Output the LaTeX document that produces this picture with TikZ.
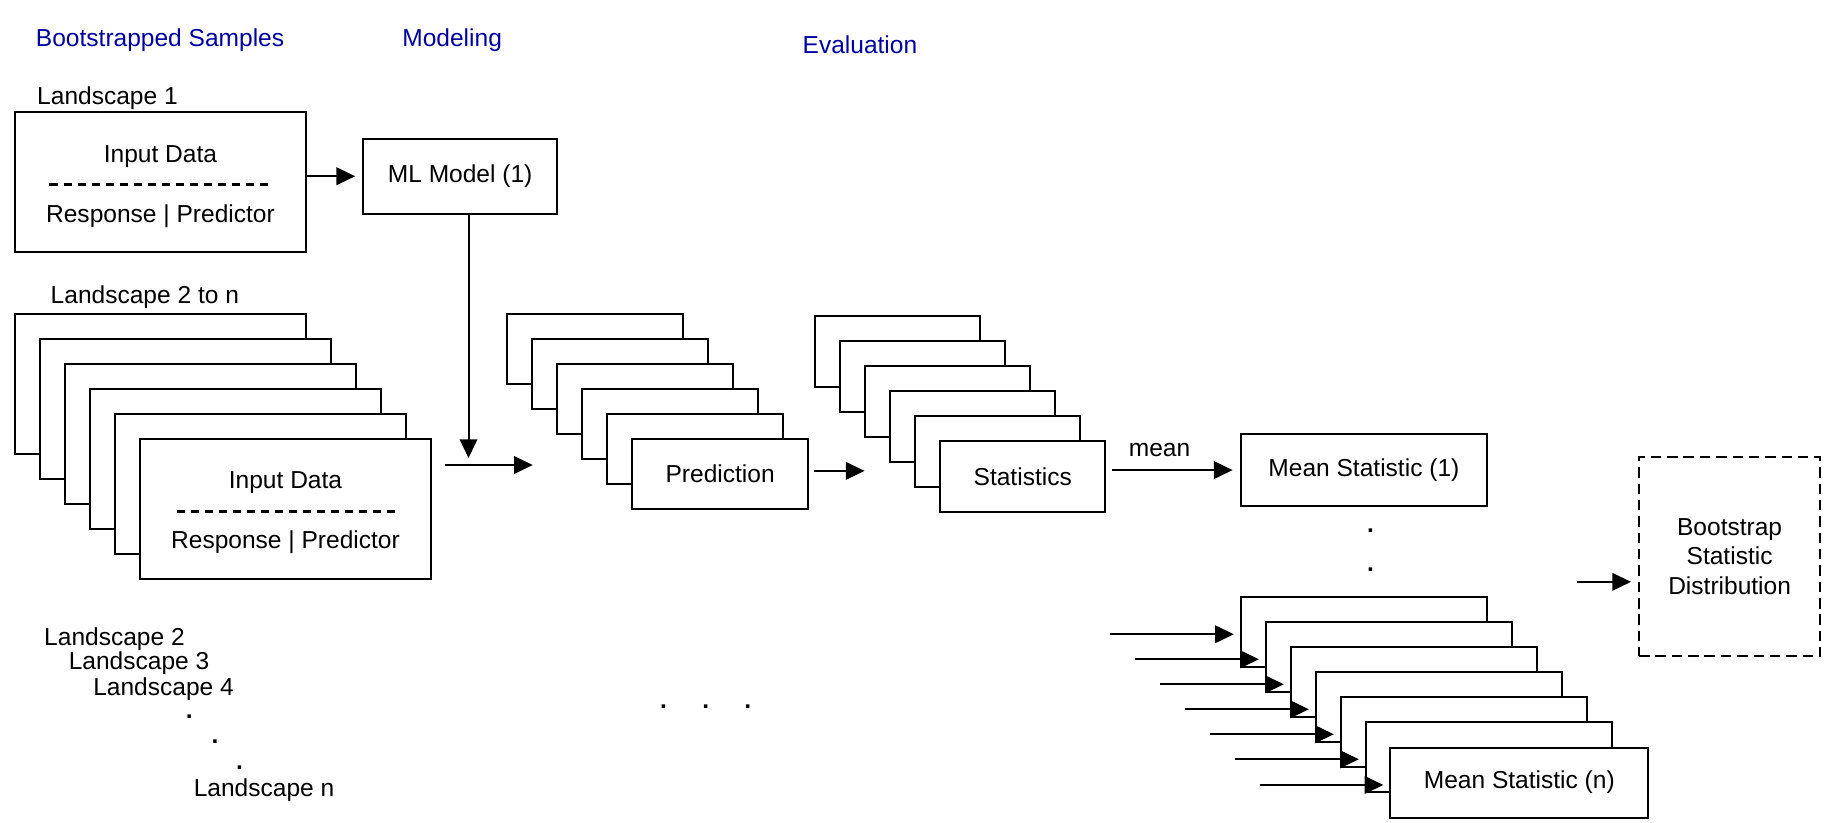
\documentclass[tikz,border=0pt]{standalone}
\usepackage{fontspec}
\setmainfont{Liberation Sans}
\usetikzlibrary{arrows.meta}
\usetikzlibrary{calc}
\definecolor{headblue}{RGB}{0,0,160}
\tikzset{
	node_text/.style = {
		align=center,
		inner sep=0pt,
		font=\fontsize{21}{25}\selectfont
	},
	node_label/.style = {
		node_text,
		yshift=-2pt
	},
	node_head/.style = {
		node_label,
		text=headblue
	},
	node_dot/.style = {
		node_text,
		font=\fontsize{21}{25}\selectfont\bfseries
	},
	node_box/.style = {
		node_text,
		rectangle,
		draw=black,
		fill=white,
		line width=1.7pt,
		anchor=north west
	},
	node_data/.style = {
		node_box,
		minimum width=249pt,
		minimum height=120pt
	},
	node_model/.style = {
		node_box,
		minimum width=166pt,
		minimum height=64pt
	},
	node_pred/.style = {
		node_box,
		minimum width=151pt,
		minimum height=60pt
	},
	node_stat/.style = {
		node_box,
		minimum width=141pt,
		minimum height=60pt
	},
	node_mean/.style = {
		node_box,
		minimum width=211pt,
		minimum height=60pt
	},
	node_dist/.style = {
		node_box,
		dashed,
		dash pattern=on 9pt off 5pt,
		minimum width=155pt,
		minimum height=171pt
	},
	arr/.style = {
		->,
		line width=1.7pt,
		shorten >=6pt
	},
	sep_line/.style = {
		line width=2pt,
		dash pattern=on 7pt off 5pt
	},
}

\begin{document}
\begin{tikzpicture}[x=1pt, y=-1pt, >={Triangle[length=16pt, width=15pt]}]
\fill[white] (0,0) rectangle (1568,704);
\useasboundingbox (0,0) rectangle (1568,704);

% column headings
\node [node_head] (h_boot) at (137,32) {Bootstrapped Samples};
\node [node_head] (h_model) at (387,32) {Modeling};
\node [node_head] (h_eval) at (736,36) {Evaluation};

% landscape 1
\node [node_label] (l_one) at (92,82) {Landscape 1};
\node [node_data] (box1) at (12,95) {};
\node [node_label] (in1) at ($(box1.center)+(0,-24)$) {Input Data};
\draw [sep_line] ($(box1.center)+(-95,2)$) -- ($(box1.center)+(96,2)$);
\node [node_label] (rp1) at ($(box1.center)+(0,27)$) {Response | Predictor};

\node [node_model] (mlm) at (310,118) {ML Model (1)};
\draw [arr] (box1.east |- mlm.west) -- (mlm.west);

% landscapes 2 to n
\node [node_label] (l_many) at (124,252) {Landscape 2 to n};
\foreach \k in {0,...,5}
	\node [node_data] (land\k) at ({12+21.4*\k},{268+21.4*\k}) {};
\node [node_label] (in5) at ($(land5.center)+(0,-25)$) {Input Data};
\draw [sep_line] ($(land5.center)+(-93,2)$) -- ($(land5.center)+(97,2)$);
\node [node_label] (rp5) at ($(land5.center)+(0,26)$) {Response | Predictor};

\node [node_label] (l_2) at (98,545) {Landscape 2};
\node [node_label] (l_3) at (119,566) {Landscape 3};
\node [node_label] (l_4) at (140,588) {Landscape 4};
\node [node_dot] (d_1) at (162,613) {.};
\node [node_dot] (d_2) at (184,635) {.};
\node [node_dot] (d_3) at (205,657) {.};
\node [node_label] (l_n) at (226,674) {Landscape n};

% model to predictions
\coordinate (mdown) at (401,392);
\draw [arr, shorten >=0pt] (mdown |- mlm.south) -- (mdown);
\coordinate (landout) at (381,398);
\coordinate (predin) at (456,398);
\draw [arr, shorten >=0pt] (landout) -- (predin);

\foreach \k in {0,...,4}
	\node [node_pred] (pred\k) at ({433+21.4*\k},{268+21.4*\k}) {};
\node [node_pred] (pred5) at (540,375) {Prediction};

\node [node_dot] (d_4) at (568,605) {.};
\node [node_dot] (d_5) at (604,605) {.};
\node [node_dot] (d_6) at (640,605) {.};

\coordinate (predout) at (697,403);
\coordinate (statin) at (740,403);
\draw [arr, shorten >=0pt] (predout) -- (statin);

\foreach \k in {0,...,4}
	\node [node_stat] (stat\k) at ({697+21.4*\k},{270+21.4*\k}) {};
\node [node_stat] (stat5) at (804,377) {Statistics};

% means
\node [node_mean, minimum height=61pt] (mst1) at (1061,371) {Mean Statistic (1)};
\draw [arr, shorten <=5pt] (stat5.east |- mst1.west) -- node [node_text, pos=0.4, above=11pt] (lbl_mean) {mean} (mst1.west);

\node [node_dot] (d_7) at (1173,454) {.};
\node [node_dot] (d_8) at (1173,488) {.};

\foreach \k in {0,...,5}
	\node [node_mean] (mst\k s) at ({1061+21.4*\k},{510+21.4*\k}) {};
\node [node_mean, minimum width=221pt] (mst6s) at (1189,639) {Mean Statistic (n)};
\foreach \k in {0,...,6}
	\draw [arr, shorten >=5pt] ([xshift=-111pt, yshift=-2pt]mst\k s.west) -- ([yshift=-2pt]mst\k s.west);

% bootstrap distribution
\node [node_dist] (dist) at (1402,390) {Bootstrap\\Statistic\\Distribution};
\coordinate (distin) at (1350,498);
\draw [arr] (distin) -- (distin -| dist.west);
\end{tikzpicture}
\end{document}
